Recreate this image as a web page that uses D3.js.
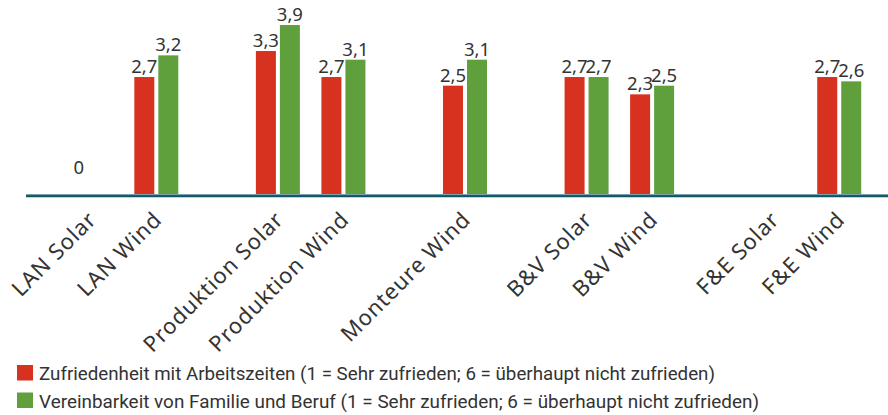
<!DOCTYPE html>
<html>
<head>
<meta charset="utf-8">
<script src="https://cdn.jsdelivr.net/npm/d3@7"></script>
<style>
  body { margin: 0; background: #fff; }
  svg { display: block; }
</style>
</head>
<body>
<div id="chart"></div>
<script>
// slots along the x axis, null = gap between groups
const slots = ["LAN Solar", "LAN Wind", null, "Produktion Solar", "Produktion Wind", null,
  "Monteure Wind", null, "B&V Solar", "B&V Wind", null, "F&E Solar", "F&E Wind"];
const categories = slots.filter(d => d !== null);
// Zufriedenheit mit Arbeitszeiten
const arbeitszeiten = [0, 2.7, 3.3, 2.7, 2.5, 2.7, 2.3, null, 2.7];
// Vereinbarkeit von Familie und Beruf
const vereinbarkeit = [null, 3.2, 3.9, 3.1, 3.1, 2.7, 2.5, null, 2.6];
const seriesNames = [
  "Zufriedenheit mit Arbeitszeiten (1 = Sehr zufrieden; 6 = überhaupt nicht zufrieden)",
  "Vereinbarkeit von Familie und Beruf (1 = Sehr zufrieden; 6 = überhaupt nicht zufrieden)"
];
const seriesColors = ["#d7311f", "#5fa03d"];

let width = 888, height = 415;
let gapUnit = 56 / 65.5;

let svg = d3.select('#chart').append('svg')
  .attr('width', width)
  .attr('height', height);

// cumulative slot positions (gaps are narrower than categories)
let centers = {};
let pos = 0;
slots.forEach(s => {
  if (s === null) { pos += gapUnit; return; }
  centers[s] = pos + 0.5;
  pos += 1;
});

let x = d3.scaleLinear().domain([0, pos]).range([58, 872]);
let y = d3.scaleLinear().domain([0, 4]).range([194, 20.7]);
let inner = d3.scaleBand().domain([0, 1]).range([-22, 22]).paddingInner(1 / 6);

let rows = [];
categories.forEach((c, i) => {
  [arbeitszeiten[i], vereinbarkeit[i]].forEach((v, k) => {
    if (v !== null) rows.push({ cat: c, k: k, v: v });
  });
});

svg.append('g').selectAll('rect')
  .data(rows)
  .join('rect')
  .attr('x', d => x(centers[d.cat]) + inner(d.k))
  .attr('width', inner.bandwidth())
  .attr('y', d => y(d.v))
  .attr('height', d => y(0) - y(d.v))
  .attr('fill', d => seriesColors[d.k]);

svg.append('g').selectAll('text')
  .data(rows)
  .join('text')
  .attr('x', d => x(centers[d.cat]) + inner(d.k) + inner.bandwidth() / 2)
  .attr('y', d => Math.min(y(d.v) - 4, y(0) - 20))
  .attr('text-anchor', 'middle')
  .style('font-family', '"Noto Sans", sans-serif')
  .style('font-size', '18.5px')
  .style('fill', '#333')
  .text(d => d3.format('.1~f')(d.v).replace('.', ','));

// baseline
svg.append('line')
  .attr('x1', 26).attr('x2', width)
  .attr('y1', 195.8).attr('y2', 195.8)
  .attr('stroke', '#0f5564').attr('stroke-width', 3);
svg.append('line')
  .attr('x1', 26).attr('x2', width)
  .attr('y1', 194.6).attr('y2', 194.6)
  .attr('stroke', '#8fb0b8').attr('stroke-width', 0.8);

// category labels
svg.append('g').selectAll('text')
  .data(categories)
  .join('text')
  .attr('transform', d => `translate(${x(centers[d]) + 7},221) rotate(-45)`)
  .attr('text-anchor', 'end')
  .style('font-family', '"Noto Sans", sans-serif')
  .style('font-size', '22px')
  .style('letter-spacing', '0.9px')
  .style('fill', '#333')
  .text(d => d);

// legend
let legend = svg.append('g').selectAll('g')
  .data(seriesNames)
  .join('g')
  .attr('transform', (d, i) => `translate(17,${365 + i * 27.5})`);

legend.append('rect')
  .attr('width', 16).attr('height', 15.5)
  .attr('fill', (d, i) => seriesColors[i]);

legend.append('text')
  .attr('x', 22).attr('y', 15)
  .attr('textLength', (d, i) => i === 0 ? 676 : 720)
  .attr('lengthAdjust', 'spacingAndGlyphs')
  .style('font-family', '"Liberation Sans Narrow", "Roboto", sans-serif')
  .style('font-size', '19px')
  .style('fill', '#333')
  .text(d => d);
</script>
</body>
</html>
